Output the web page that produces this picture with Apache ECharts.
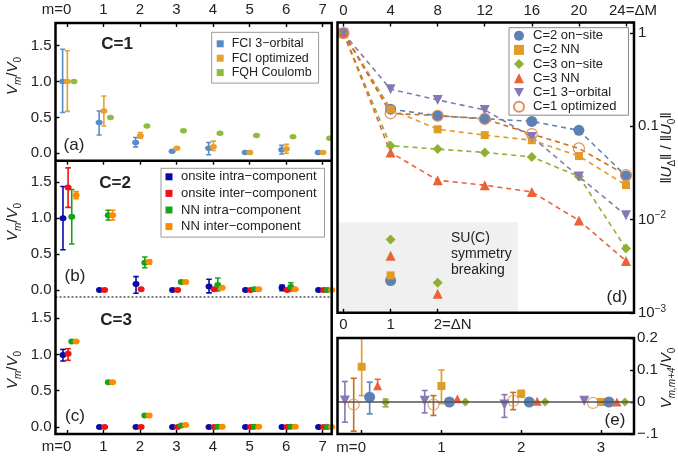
<!DOCTYPE html>
<html>
<head>
<meta charset="utf-8">
<script src="https://cdn.jsdelivr.net/npm/echarts@6/dist/echarts.min.js"></script>
<style>html,body{margin:0;padding:0;background:#fff;}#chart{width:678px;height:462px;}</style>
</head>
<body>
<div id="chart"></div>
<script>
// ================= DATA =================
const mValues = [0, 1, 2, 3, 4, 5, 6, 7];
const mTickLabels = ['m=0', '1', '2', '3', '4', '5', '6', '7'];
const vTicks = [0, 0.5, 1.0, 1.5];

// (a) C=1
const aNames = ['FCI 3−orbital', 'FCI optimized', 'FQH Coulomb'];
const aFci3Val = [1.0, 0.43, 0.15, 0.03, 0.07, 0.01, 0.05, 0.01];
const aFci3Lo  = [0.57, 0.255, 0.09, null, -0.02, null, -0.01, null];
const aFci3Hi  = [1.45, 0.59, 0.22, null, 0.15, null, 0.11, null];
const aOptVal  = [1.0, 0.59, 0.245, 0.07, 0.09, 0.01, 0.06, 0.01];
const aOptLo   = [0.585, 0.38, 0.21, null, 0.04, null, 0.0, null];
const aOptHi   = [1.43, 0.80, 0.29, null, 0.17, null, 0.125, null];
const aFqhVal  = [1.0, 0.50, 0.38, 0.315, 0.28, 0.25, 0.23, 0.21];

// (b) C=2
const bcNames = ['onsite intra−component', 'onsite inter−component', 'NN intra−component', 'NN inter−component'];
const bOnIntraVal = [1.0, 0.0, 0.084, 0.0, 0.047, 0.0, 0.03, 0.0];
const bOnIntraLo  = [0.56, null, -0.046, null, -0.04, null, -0.01, null];
const bOnIntraHi  = [1.44, null, 0.186, null, 0.15, null, 0.07, null];
const bOnInterVal = [1.426, 0.0, 0.01, 0.0, 0.01, 0.0, 0.0, 0.0];
const bOnInterLo  = [1.15, null, null, null, null, null, null, null];
const bOnInterHi  = [1.70, null, null, null, null, null, null, null];
const bNnIntraVal = [1.02, 1.04, 0.38, 0.11, 0.07, 0.01, 0.04, 0.0];
const bNnIntraLo  = [0.64, 0.975, 0.31, null, -0.014, null, -0.014, null];
const bNnIntraHi  = [1.40, 1.11, 0.46, null, 0.167, null, 0.10, null];
const bNnInterVal = [1.32, 1.04, 0.39, 0.11, 0.03, 0.01, 0.01, 0.0];
const bNnInterLo  = [1.27, 0.975, 0.36, null, null, null, null, null];
const bNnInterHi  = [1.37, 1.11, 0.42, null, null, null, null, null];

// (c) C=3
const cOnIntraVal = [0.994, 0, 0, 0, 0, 0, 0, 0];
const cOnIntraLo  = [0.91, null, null, null, null, null, null, null];
const cOnIntraHi  = [1.07, null, null, null, null, null, null, null];
const cOnInterVal = [1.01, 0, 0, 0, 0, 0, 0, 0];
const cOnInterLo  = [0.92, null, null, null, null, null, null, null];
const cOnInterHi  = [1.08, null, null, null, null, null, null, null];
const cNnIntraVal = [1.18, 0.617, 0.16, 0.02, 0.005, 0.003, 0.002, 0.001];
const cNnInterVal = [1.18, 0.617, 0.16, 0.028, 0.005, 0.003, 0.002, 0.001];

// (d) norm decay vs ΔM
const deltaM = [0, 4, 8, 12, 16, 20, 24];
const deltaMTickLabels = ['0', '4', '8', '12', '16', '20', '24=ΔM'];
const deltaNTicks = [0, 1, 2];
const deltaNTickLabels = ['0', '1', '2=ΔN'];
const dNames = ['C=2 on−site', 'C=2 NN', 'C=3 on−site', 'C=3 NN', 'C=1 3−orbital', 'C=1 optimized'];
const dC2Onsite = [1, 0.153, 0.13, 0.121, 0.113, 0.0906, 0.0293];
const dC2NN     = [1, 0.152, 0.093, 0.0805, 0.071, 0.048, 0.0234];
const dC3Onsite = [1, 0.062, 0.057, 0.0525, 0.047, 0.029, 0.0049];
const dC3NN     = [1, 0.0525, 0.0264, 0.0234, 0.0198, 0.0098, 0.0036];
const dC1Orb3   = [1, 0.25, 0.192, 0.15, 0.077, 0.029, 0.0111];
const dC1Opt    = [1, 0.138, 0.13, 0.12, 0.0826, 0.058, 0.030];
// SU(C) symmetry breaking vs ΔN
const sbDeltaN   = [1, 2];
const sbC3Onsite = [0.0061, 0.0021];
const sbC3NN     = [0.0041, 0.0016];
const sbC2NN     = [0.00252, null];
const sbC2Onsite = [0.00222, null];

// (e) V_{m,m+4}/V_0
const eM = [0, 1, 2, 3];
const eTickLabels = ['m=0', '1', '2', '3'];
const eC1Orb3Val = [0.005, 0.004, -0.008, 0.004];
const eC1Orb3Lo  = [-0.063, -0.034, -0.048, null];
const eC1Orb3Hi  = [0.064, 0.036, 0.023, null];
const eC1OptVal  = [-0.008, -0.008, 0.004, -0.003];
const eC1OptLo   = [-0.091, -0.042, -0.024, null];
const eC1OptHi   = [0.074, 0.02, 0.03, null];
const eC2NNVal   = [0.11, 0.05, 0.026, 0.0];
const eC2NNLo    = [0.02, -0.005, 0.015, null];
const eC2NNHi    = [0.2, 0.1, 0.036, null];
const eC2OnVal   = [0.015, 0.0, 0.0, 0.0];
const eC2OnLo    = [-0.037, null, null, null];
const eC2OnHi    = [0.062, null, null, null];
const eC3NNVal   = [0.051, 0.01, 0.002, 0.0];
const eC3NNLo    = [0.043, null, null, null];
const eC3NNHi    = [0.071, null, null, null];
const eC3OnVal   = [-0.001, 0.0, 0.0, 0.0];
const eC3OnLo    = [-0.015, null, null, null];
const eC3OnHi    = [0.009, null, null, null];

// ================= STYLE / LAYOUT =================
const FONT = '"Liberation Sans", Arial, Helvetica, sans-serif';
const TXT = '#222';
const LX = 55.5, LW = 276.2, A_TOP = 23, AB = 160.7, BC = 297, C_BOT = 434;
const RX = 337.5, RW = 296.5, D_TOP = 22.5, D_BOT = 312.8, E_TOP = 338, E_BOT = 434;
const colA = ['#5a8bc9', '#e8a02c', '#8fbc3c'];
const colB = ['#0a0aa8', '#f01414', '#18a418', '#ff8a00'];
const colD = {c2on:'#5e81b5', c2nn:'#e19c24', c3on:'#8fb032', c3nn:'#eb6235', c1o3:'#8778b3', c1op:'#c56e1a', ring:'#e0905a'};
const offA = [-0.12, 0.01, 0.19];
const offB = [-0.11, 0.03, 0.13, 0.25];
const offE = [-0.21, -0.1, 0.0, 0.1, 0.2, 0.3];
const DOWN_TRI = 'path://M0,0L10,0L5,9Z';

function pts(name, xi, yi, xs, off, vals, color, size, symbol, extra) {
  const data = [];
  xs.forEach((x, i) => { if (vals[i] != null) data.push([x + off, vals[i]]); });
  return Object.assign({type:'scatter', name, xAxisIndex:xi, yAxisIndex:yi, symbol:symbol || 'circle',
    symbolSize:size, itemStyle:{color, opacity:1}, data, z:4, silent:true}, extra || {});
}
function errs(name, xi, yi, xs, off, lo, hi, color, capW) {
  const data = [];
  xs.forEach((x, i) => { if (lo[i] != null) data.push([x + off, lo[i], hi[i]]); });
  return {type:'custom', name, xAxisIndex:xi, yAxisIndex:yi, z:3, silent:true, clip:true,
    encode:{x:0, y:[1, 2]}, data,
    renderItem:(params, api) => {
      const x = api.value(0);
      const p1 = api.coord([x, api.value(1)]), p2 = api.coord([x, api.value(2)]);
      const w = capW / 2, st = {stroke:color, lineWidth:1.6};
      return {type:'group', children:[
        {type:'line', shape:{x1:p1[0], y1:p1[1], x2:p2[0], y2:p2[1]}, style:st},
        {type:'line', shape:{x1:p1[0]-w, y1:p1[1], x2:p1[0]+w, y2:p1[1]}, style:st},
        {type:'line', shape:{x1:p2[0]-w, y1:p2[1], x2:p2[0]+w, y2:p2[1]}, style:st}
      ]};
    }};
}
function fmt(values, labels, richKeys) {
  return v => {
    const i = values.findIndex(t => Math.abs(t - v) < 1e-9);
    if (i < 0) return '';
    return richKeys && richKeys[i] ? '{' + richKeys[i] + '|' + labels[i] + '}' : labels[i];
  };
}
const tickStyle = {show:true, inside:true, length:4, lineStyle:{color:'#000', width:1.4}};
const tick = vals => Object.assign({}, tickStyle, {customValues:vals});
const noLine = {show:false, onZero:false};
const baseRich = {
  mz:{fontSize:15, fontFamily:FONT, color:TXT, padding:[0, 21, 0, 0]},
  dm:{fontSize:15, fontFamily:FONT, color:TXT, padding:[0, 0, 0, 14]},
  dn:{fontSize:15, fontFamily:FONT, color:TXT, padding:[0, 0, 0, 30]},
  sup:{fontSize:10, fontFamily:FONT, color:TXT, verticalAlign:'top', lineHeight:10}
};
const lab = (vals, f, margin) => ({show:true, customValues:vals, formatter:f, margin, fontSize:15, fontFamily:FONT, color:TXT, lineHeight:18, rich:baseRich});

function xAx(grid, pos, min, max, ticks, label) {
  return {type:'value', gridIndex:grid, position:pos, min, max, axisLine:noLine, splitLine:{show:false},
    axisTick:tick(ticks), axisLabel: label || {show:false}};
}
function yAx(grid, min, max) {
  return {type:'value', gridIndex:grid, position:'left', min, max, axisLine:noLine, splitLine:{show:false},
    axisTick:tick(vTicks), axisLabel:lab(vTicks, v => v.toFixed(1), 4)};
}

const mFmt = fmt(mValues, mTickLabels, ['mz']);
const xAxes = [
  xAx(0, 'top', -0.315, 7.25, mValues, lab(mValues, mFmt, 4)),
  xAx(1, 'top', -0.315, 7.25, mValues, null),
  xAx(2, 'bottom', -0.315, 7.25, mValues, lab(mValues, mFmt, 4)),
  xAx(3, 'top', -0.51, 24.68, deltaM, lab(deltaM, fmt(deltaM, deltaMTickLabels, [0,0,0,0,0,0,'dm']), 3)),
  xAx(3, 'bottom', -0.51 / 4, 24.68 / 4, deltaNTicks, lab(deltaNTicks, fmt(deltaNTicks, deltaNTickLabels, [0,0,'dn']), 3)),
  xAx(4, 'bottom', -0.303, 3.414, eM, lab(eM, fmt(eM, eTickLabels, ['mz']), 5))
];
const logFmt = v => {
  const l = Math.log10(v), e = Math.round(l);
  if (Math.abs(l - e) > 1e-6) return '';
  if (e === 0) return '1';
  if (e === -1) return '0.1';
  return '10{sup|−' + (-e) + '}';
};
const eYFmt = v => {
  const r = Math.round(v * 10) / 10;
  if (r === 0) return '0';
  if (r < 0) return '−' + Math.abs(r).toFixed(1).slice(1);
  return r.toFixed(1);
};
const yAxes = [
  yAx(0, -0.103, 1.817),
  yAx(1, -0.0975, 1.80),
  yAx(2, -0.0966, 1.793),
  {type:'log', logBase:10, gridIndex:3, position:'right', min:0.001, max:1.3, axisLine:noLine, splitLine:{show:false},
    minorTick:{show:false}, axisTick:tickStyle,
    axisLabel:{show:true, formatter:logFmt, margin:4, fontSize:15, fontFamily:FONT, color:TXT, lineHeight:18, rich:baseRich}},
  {type:'value', gridIndex:4, position:'right', min:-0.1, max:0.2, interval:0.1, axisLine:noLine, splitLine:{show:false},
    axisTick:tickStyle,
    axisLabel:{show:true, formatter:eYFmt, margin:3, fontSize:15, fontFamily:FONT, color:TXT}}
];

// ================= SERIES =================
const series = [];
// (a)
series.push(errs('a-err0', 0, 0, mValues, offA[0], aFci3Lo, aFci3Hi, colA[0], 5));
series.push(errs('a-err1', 0, 0, mValues, offA[1], aOptLo, aOptHi, colA[1], 5));
series.push(pts(aNames[0], 0, 0, mValues, offA[0], aFci3Val, colA[0], [7, 5.5]));
series.push(pts(aNames[1], 0, 0, mValues, offA[1], aOptVal, colA[1], [7, 5.5]));
series.push(pts(aNames[2], 0, 0, mValues, offA[2], aFqhVal, colA[2], [7, 5.5]));
// (b)
const bVals = [bOnIntraVal, bOnInterVal, bNnIntraVal, bNnInterVal];
const bLo = [bOnIntraLo, bOnInterLo, bNnIntraLo, bNnInterLo];
const bHi = [bOnIntraHi, bOnInterHi, bNnIntraHi, bNnInterHi];
for (let k = 0; k < 4; k++) series.push(errs('b-err' + k, 1, 1, mValues, offB[k], bLo[k], bHi[k], colB[k], 5.5));
for (let k = 0; k < 4; k++) series.push(pts(bcNames[k], 1, 1, mValues, offB[k], bVals[k], colB[k], [7, 6]));
// (c)
series.push(errs('c-err0', 2, 2, mValues, offB[0], cOnIntraLo, cOnIntraHi, colB[0], 5.5));
series.push(errs('c-err1', 2, 2, mValues, offB[1], cOnInterLo, cOnInterHi, colB[1], 5.5));
const cVals = [cOnIntraVal, cOnInterVal, cNnIntraVal, cNnInterVal];
for (let k = 0; k < 4; k++) series.push(pts(bcNames[k], 2, 2, mValues, offB[k], cVals[k], colB[k], [7, 6]));
// (d)
function dLine(name, vals, color, symbol, size, lineColor, itemStyle) {
  return {type:'line', name, xAxisIndex:3, yAxisIndex:3, data:deltaM.map((x, i) => [x, vals[i]]),
    symbol, symbolSize:size, showSymbol:true, silent:true, z:4,
    lineStyle:{color:lineColor || color, width:1.6, type:[5, 4]},
    itemStyle:itemStyle || {color, opacity:1}};
}
series.push(dLine(dNames[0], dC2Onsite, colD.c2on, 'circle', 11));
series.push(dLine(dNames[1], dC2NN, colD.c2nn, 'rect', 8));
series.push(dLine(dNames[2], dC3Onsite, colD.c3on, 'diamond', 10));
series.push(dLine(dNames[3], dC3NN, colD.c3nn, 'triangle', 10));
series.push(dLine(dNames[4], dC1Orb3, colD.c1o3, DOWN_TRI, 10));
series.push(dLine(dNames[5], dC1Opt, colD.ring, 'circle', 11, '#c96e22', {color:'rgba(0,0,0,0)', borderColor:colD.ring, borderWidth:1.2}));
series.push(pts('sb-c3on', 4, 3, sbDeltaN, 0, sbC3Onsite, colD.c3on, 10, 'diamond'));
series.push(pts('sb-c3nn', 4, 3, sbDeltaN, 0, sbC3NN, colD.c3nn, 10, 'triangle'));
series.push(pts('sb-c2on', 4, 3, sbDeltaN, 0, sbC2Onsite, colD.c2on, 11, 'circle'));
series.push(pts('sb-c2nn', 4, 3, sbDeltaN, 0, sbC2NN, colD.c2nn, 8, 'rect'));
// (e)
series.push({type:'scatter', name:'e-zero', xAxisIndex:5, yAxisIndex:4, data:[], z:2, silent:true,
  markLine:{silent:true, symbol:'none', label:{show:false}, data:[{yAxis:0}], lineStyle:{color:'#555', width:1.5, type:'solid'}, animation:false}});
const eSpec = [
  [eC1Orb3Val, eC1Orb3Lo, eC1Orb3Hi, colD.c1o3, DOWN_TRI, 10, null],
  [eC1OptVal, eC1OptLo, eC1OptHi, colD.c1op, 'circle', 11, {color:'rgba(0,0,0,0)', borderColor:colD.ring, borderWidth:1.2}],
  [eC2NNVal, eC2NNLo, eC2NNHi, colD.c2nn, 'rect', 8, null],
  [eC2OnVal, eC2OnLo, eC2OnHi, colD.c2on, 'circle', 11, null],
  [eC3NNVal, eC3NNLo, eC3NNHi, colD.c3nn, 'triangle', 9, null],
  [eC3OnVal, eC3OnLo, eC3OnHi, colD.c3on, 'diamond', 9, null]
];
eSpec.forEach((s, k) => {
  series.push(errs('e-err' + k, 5, 4, eM, offE[k], s[1], s[2], s[3], 6));
  const p = pts('e-pt' + k, 5, 4, eM, offE[k], s[0], s[3], s[5], s[4]);
  if (s[6]) p.itemStyle = s[6];
  series.push(p);
});

// ================= LEGENDS =================
const legends = [
  {left:211.7, top:32.3, orient:'vertical', selectedMode:false, itemWidth:7, itemHeight:7, itemGap:1.4, icon:'rect',
   padding:[5, 7, 4, 5], backgroundColor:'#fff', borderColor:'#999', borderWidth:1,
   textStyle:{fontSize:12.5, lineHeight:10, fontFamily:FONT, color:TXT, padding:[0, 0, 0, 3]}, data:aNames},
  {left:161, top:168.3, orient:'vertical', selectedMode:false, itemWidth:7, itemHeight:7, itemGap:3.6, icon:'rect',
   padding:[2, 8, 4, 4.5], backgroundColor:'#fff', borderColor:'#999', borderWidth:1,
   textStyle:{fontSize:13, lineHeight:12, fontFamily:FONT, color:TXT, padding:[0, 0, 0, 3.5]}, data:bcNames},
  {left:509, top:27.7, orient:'vertical', selectedMode:false, itemWidth:10, itemHeight:10, itemGap:1.2,
   padding:[1.5, 12, 2, 4], backgroundColor:'#fff', borderColor:'#888', borderWidth:1,
   textStyle:{fontSize:13, lineHeight:10, fontFamily:FONT, color:TXT, padding:[0, 0, 0, 4]},
   data:[{name:dNames[0], icon:'circle'}, {name:dNames[1], icon:'rect'}, {name:dNames[2], icon:'diamond'},
         {name:dNames[3], icon:'triangle'}, {name:dNames[4], icon:DOWN_TRI}, {name:dNames[5], icon:'circle'}]}
];

// ================= GRAPHICS (frames, texts) =================
const subRich = {
  i:{fontSize:15, fontStyle:'italic', fontFamily:FONT, fill:TXT, lineHeight:20},
  s:{fontSize:10, fontStyle:'italic', fontFamily:FONT, fill:TXT, lineHeight:10, verticalAlign:'bottom'},
  n:{fontSize:10, fontFamily:FONT, fill:TXT, lineHeight:10, verticalAlign:'bottom'},
  t:{fontSize:15, fontFamily:FONT, fill:TXT, lineHeight:20}
};
function vtext(x, y, text) {
  return {type:'text', x, y, rotation:Math.PI / 2, z:50, silent:true,
    style:{text, rich:subRich, fontSize:15, fontFamily:FONT, fill:TXT, align:'center', verticalAlign:'middle'}};
}
function txt(x, y, text, size, bold, align) {
  return {type:'text', x, y, z:50, silent:true,
    style:{text, fontSize:size, fontWeight:bold ? 'bold' : 'normal', fontFamily:FONT, fill:TXT, align:align || 'center', verticalAlign:'middle', lineHeight:16}};
}
const frame = {stroke:'#000', lineWidth:2.5, fill:null};
const graphics = [
  {type:'rect', z:0, silent:true, shape:{x:RX, y:222.3, width:517.7 - RX, height:D_BOT - 222.3}, style:{fill:'#f0f0f0'}},
  {type:'rect', z:60, silent:true, shape:{x:LX, y:A_TOP, width:LW, height:C_BOT - A_TOP}, style:frame},
  {type:'line', z:60, silent:true, shape:{x1:LX, y1:AB, x2:LX + LW, y2:AB}, style:{stroke:'#000', lineWidth:2.5}},
  {type:'line', z:60, silent:true, shape:{x1:LX, y1:BC, x2:LX + LW, y2:BC}, style:{stroke:'#000', lineWidth:1, lineDash:[2, 2]}},
  {type:'rect', z:60, silent:true, shape:{x:RX, y:D_TOP, width:RW, height:D_BOT - D_TOP}, style:frame},
  {type:'rect', z:60, silent:true, shape:{x:RX, y:E_TOP, width:RW, height:E_BOT - E_TOP}, style:frame},
  vtext(13, 76, '{i|V}{s|m}{t|/}{i|V}{n|0}'),
  vtext(13, 222, '{i|V}{s|m}{t|/}{i|V}{n|0}'),
  vtext(13, 370, '{i|V}{s|m}{t|/}{i|V}{n|0}'),
  vtext(667, 148, '{t|‖}{i|U}{n|Δ}{t|‖ / ‖}{i|U}{n|0}{t|‖}'),
  vtext(667, 378, '{i|V}{s|m,m+4}{t|/}{i|V}{n|0}'),
  txt(117, 44, 'C=1', 17, true), txt(115, 183, 'C=2', 17, true), txt(116, 320, 'C=3', 17, true),
  txt(74, 145, '(a)', 17), txt(75, 276, '(b)', 17), txt(75, 416, '(c)', 17),
  txt(617, 297, '(d)', 17), txt(615, 420, '(e)', 17),
  txt(451, 254, 'SU(C)\nsymmetry\nbreaking', 14, false, 'left')
];

// ================= CHART =================
const chart = echarts.init(document.getElementById('chart'));
chart.setOption({
  animation:false,
  backgroundColor:'#fff',
  textStyle:{fontFamily:FONT},
  grid:[
    {left:LX, top:A_TOP, width:LW, height:AB - A_TOP},
    {left:LX, top:AB, width:LW, height:BC - AB},
    {left:LX, top:BC, width:LW, height:C_BOT - BC},
    {left:RX, top:D_TOP, width:RW, height:D_BOT - D_TOP},
    {left:RX, top:E_TOP, width:RW, height:E_BOT - E_TOP}
  ],
  xAxis:xAxes,
  yAxis:yAxes,
  legend:legends,
  graphic:graphics,
  series
});
</script>
</body>
</html>
